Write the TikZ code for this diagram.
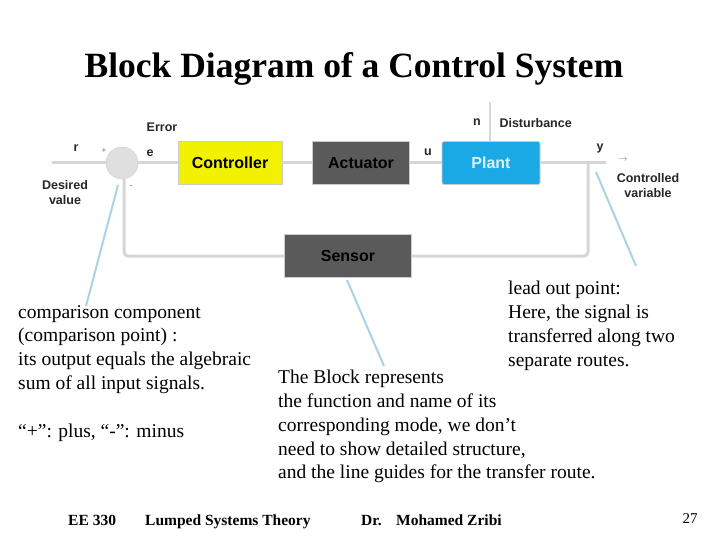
\documentclass[tikz,border=0pt]{standalone}
\usepackage{fontspec}
\setmainfont{Liberation Serif}
\newfontfamily\blocksans{Liberation Sans}
\usetikzlibrary{arrows.meta}
\definecolor{wire}{HTML}{D6D6D6}
\definecolor{callout}{HTML}{A9D3E6}
\definecolor{plantblue}{HTML}{1BA9E6}
\definecolor{darkblock}{HTML}{5A5A5A}
\definecolor{ctrlyellow}{HTML}{F2F200}
\tikzset{
  blockbox/.style={draw=gray!40, line width=0.8pt, minimum height=43pt, inner sep=0pt, font=\blocksans\bfseries\fontsize{16}{18}\selectfont},
  wireline/.style={draw=wire, line width=3pt},
  pointer/.style={draw=callout, line width=2pt},
  sig/.style={font=\blocksans\bfseries\fontsize{12.5}{15}\selectfont, text=black!85},
  note/.style={align=left, anchor=north west, inner sep=0pt, font=\fontsize{19.5}{23.8}\selectfont},
  footer/.style={font=\bfseries\fontsize{15.5}{17}\selectfont, anchor=base west, inner sep=0pt},
}
\begin{document}
\begin{tikzpicture}[x=1pt,y=-1pt]
  \useasboundingbox[fill=white] (0,0) rectangle (720,540);

  % title
  \node[font=\bfseries\fontsize{35.5}{38}\selectfont] (title) at (354,69) {Block Diagram of a Control System};

  % forward path blocks
  \node[blockbox, fill=ctrlyellow, minimum width=104pt] (ctrl) at (230,163) {Controller};
  \node[blockbox, fill=darkblock, minimum width=97pt] (act) at (361,163) {Actuator};
  \node[blockbox, fill=plantblue, minimum width=98pt, text=white!85!plantblue, rounded corners=2pt] (plant) at (491,163) {Plant};
  \node[blockbox, fill=darkblock, minimum width=127pt, minimum height=43pt] (sens) at (348,256) {Sensor};

  % summing junction
  \node[circle, draw=gray!40, fill=gray!25, minimum size=32pt, inner sep=0pt] (sum) at (122,163) {};

  % points on the wires
  \coordinate (rin) at (52,163);
  \coordinate (yout) at (606,163);
  \coordinate (tap) at (588,163);
  \coordinate (fbr) at (588,256);
  \coordinate (fbl) at (124,256);
  \coordinate (dtop) at (490,102);

  % wires
  \draw[wireline] (rin) -- (sum.west);
  \draw[wireline] (sum.east) -- (ctrl.west);
  \draw[wireline] (ctrl.east) -- (act.west);
  \draw[wireline] (act.east) -- (plant.west);
  \draw[wireline] (plant.east) -- (yout);
  \draw[wireline, rounded corners=4pt] (tap) -- (fbr) -- (sens.east);
  \draw[wireline, rounded corners=4pt] (sens.west) -- (fbl) -- (fbl |- sum.south);
  \draw[wireline, line width=1.5pt] (dtop) -- (plant.north -| dtop);

  % signal labels
  \node[sig] (rlab) at (76,148) {r};
  \node[sig] (errlab) at (162,127) {Error};
  \node[sig] (elab) at (150,153) {e};
  \node[sig] (ulab) at (428,152) {u};
  \node[sig] (nlab) at (477,122) {n};
  \node[sig, anchor=west] (dlab) at (496,123) {Disturbance};
  \node[sig] (ylab) at (600,148) {y};
  \node[font=\blocksans\fontsize{9}{10}\selectfont, text=gray] (arr) at (623,160) {$\rightarrow$};
  \node[sig, align=center] (desired) at (65,193) {Desired\\value};
  \node[sig, align=center] (ctrlvar) at (648,186) {Controlled\\variable};
  \node[font=\blocksans\fontsize{9}{10}\selectfont, text=gray] (plus) at (104,151) {+};
  \node[font=\blocksans\fontsize{9}{10}\selectfont, text=gray] (minus) at (131,187) {-};

  % notes
  \node[note] (n1) at (18,305) { comparison component\\(comparison point) :\\its output equals the algebraic\\sum of all input signals.\\[23.8pt]``+'': plus, ``-'': minus};
  \node[note] (n2) at (278,370) {The Block represents\\the function and name of its\\corresponding mode, we don't\\need to show detailed structure,\\and the line guides for the transfer route.};
  \node[note] (n3) at (508,281) {lead out point:\\Here, the signal is\\transferred along two\\separate routes.};

  % pointers
  \coordinate (p1a) at (118,185);
  \coordinate (p1b) at (86,306);
  \coordinate (p2a) at (347,280);
  \coordinate (p2b) at (384,366);
  \coordinate (p3a) at (596,172);
  \coordinate (p3b) at (636,266);
  \draw[pointer] (p1a) -- (p1b);
  \draw[pointer] (p2a) -- (p2b);
  \draw[pointer] (p3a) -- (p3b);

  % footer
  \node[footer] (f1) at (68,525) {EE 330};
  \node[footer] (f2) at (145,525) {Lumped Systems Theory};
  \node[footer] (f3) at (361,525) {Dr.};
  \node[footer] (f4) at (396,525) {Mohamed Zribi};
  \node[font=\fontsize{15}{17}\selectfont] (page) at (690,519) {27};
\end{tikzpicture}
\end{document}
